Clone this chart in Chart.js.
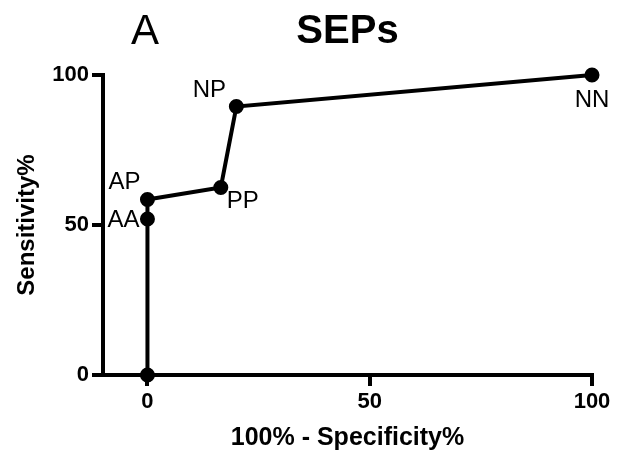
<!DOCTYPE html>
<html>
<head>
<meta charset="utf-8">
<script src="https://cdn.jsdelivr.net/npm/chart.js@4/dist/chart.umd.min.js"></script>
<style>
  body { margin: 0; background: white; }
  #grafico { display: block; }
</style>
</head>
<body>
<canvas id="grafico" width="617" height="453"></canvas>
<script>
// dados
var especificidade = [0, 0, 0, 16.5, 20, 100];   // 100% - Specificity%
var sensibilidade = [0, 52, 58.5, 62.5, 89.5, 100]; // Sensitivity%
var rotulos = ["", "AA", "AP", "PP", "NP", "NN"];
var ticksX = [0, 50, 100];
var ticksY = [0, 50, 100];

// deslocamento de cada rotulo em relacao ao ponto (px)
var deslocamento = {
  AA: [-24, 1],
  AP: [-23, -17],
  PP: [22, 14],
  NP: [-27, -16],
  NN: [0, 25]
};

var fonte = "'Liberation Sans', Arial, sans-serif";

var pontos = [];
for (var i = 0; i < especificidade.length; i++) {
  pontos.push({ x: especificidade[i], y: sensibilidade[i] });
}

// escreve AA, AP... perto de cada ponto
var rotulosPlugin = {
  id: "rotulos",
  afterDatasetsDraw: function (chart) {
    var ctx = chart.ctx;
    var meta = chart.getDatasetMeta(0);
    ctx.save();
    ctx.font = "24px " + fonte;
    ctx.fillStyle = "black";
    ctx.textAlign = "center";
    ctx.textBaseline = "middle";
    for (var i = 0; i < meta.data.length; i++) {
      var r = rotulos[i];
      if (!r) continue;
      var d = deslocamento[r];
      ctx.fillText(r, meta.data[i].x + d[0], meta.data[i].y + d[1]);
    }
    // letra do painel
    ctx.font = "42px " + fonte;
    ctx.fillText("A", 145, 32);
    ctx.restore();
  }
};

function fixarTicks(lista) {
  return function (scale) {
    scale.ticks = lista.map(function (v) { return { value: v }; });
  };
}

new Chart(document.getElementById("grafico"), {
  type: "scatter",
  data: {
    datasets: [
      {
        data: pontos,
        showLine: true,
        borderColor: "black",
        backgroundColor: "black",
        borderWidth: 4,
        pointRadius: 5.5,
        pointHoverRadius: 5.5,
        clip: false
      }
    ]
  },
  options: {
    responsive: false,
    animation: false,
    layout: { padding: { left: 0, right: 25, top: 0, bottom: 0 } },
    plugins: {
      legend: { display: false },
      tooltip: { enabled: false },
      title: {
        display: true,
        fullSize: false,
        text: "SEPs",
        color: "black",
        font: { family: fonte, size: 40, weight: "bold" },
        padding: { top: 8, bottom: 19 }
      }
    },
    scales: {
      x: {
        type: "linear",
        min: -10,
        max: 100,
        afterBuildTicks: fixarTicks(ticksX),
        afterFit: function (scale) { scale.height = 78; },
        border: { display: true, color: "black", width: 4 },
        grid: { drawOnChartArea: false, color: "black", tickLength: 11, lineWidth: 4 },
        ticks: {
          color: "black",
          padding: 3,
          font: { family: fonte, size: 22, weight: "bold" }
        },
        title: {
          display: true,
          text: "100% - Specificity%",
          color: "black",
          padding: { top: 0, bottom: 0 },
          font: { family: fonte, size: 25, weight: "bold" }
        }
      },
      y: {
        type: "linear",
        min: 0,
        max: 100,
        afterBuildTicks: fixarTicks(ticksY),
        afterFit: function (scale) { scale.width = 103; },
        border: { display: true, color: "black", width: 4 },
        grid: { drawOnChartArea: false, color: "black", tickLength: 11, lineWidth: 4 },
        ticks: {
          color: "black",
          padding: 3,
          font: { family: fonte, size: 22, weight: "bold" }
        },
        title: {
          display: true,
          text: "Sensitivity%",
          color: "black",
          padding: { top: 13, bottom: 0 },
          font: { family: fonte, size: 24, weight: "bold" }
        }
      }
    }
  },
  plugins: [rotulosPlugin]
});
</script>
</body>
</html>
